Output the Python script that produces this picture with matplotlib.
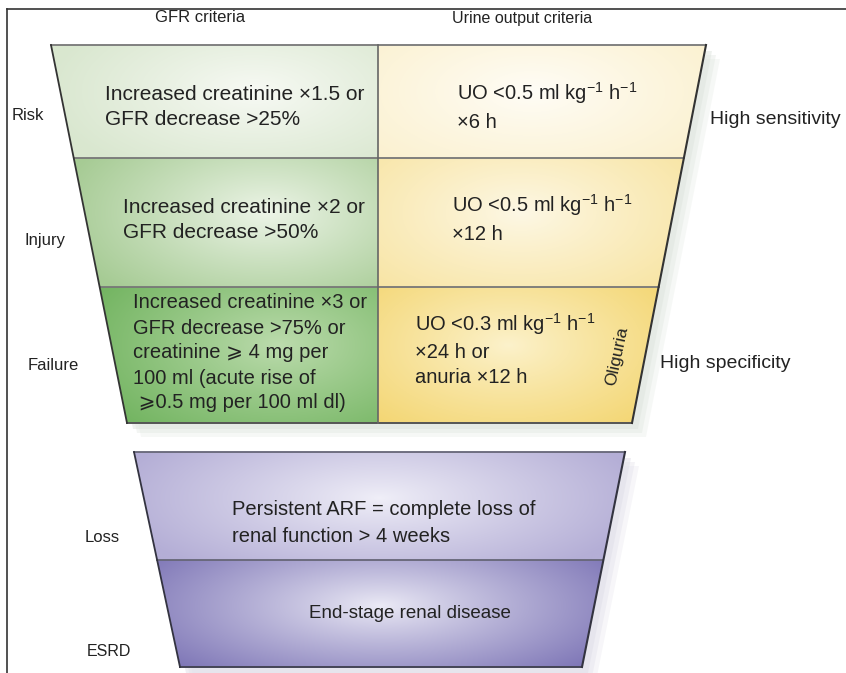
import numpy as np
import matplotlib
matplotlib.use("Agg")
import matplotlib.pyplot as plt
from matplotlib.patches import Polygon
from matplotlib.colors import to_rgb

plt.rcParams['font.family'] = ['Liberation Sans', 'DejaVu Sans']
plt.rcParams['mathtext.default'] = 'regular'

# ---- content ----
headers = ["GFR criteria", "Urine output criteria"]
stages = ["Risk", "Injury", "Failure"]
outcomes = ["Loss", "ESRD"]
gfr_text = [
    "Increased creatinine \u00d71.5 or\nGFR decrease >25%",
    "Increased creatinine \u00d72 or\nGFR decrease >50%",
    "Increased creatinine \u00d73 or\nGFR decrease >75% or\ncreatinine \u2a7e 4 mg per\n100 ml (acute rise of\n \u2a7e0.5 mg per 100 ml dl)",
]
uo_text = [
    "UO <0.5 ml kg$^{-1}$ h$^{-1}$\n\u00d76 h",
    "UO <0.5 ml kg$^{-1}$ h$^{-1}$\n\u00d712 h",
    "UO <0.3 ml kg$^{-1}$ h$^{-1}$\n\u00d724 h or\nanuria \u00d712 h",
]
outcome_text = [
    "Persistent ARF = complete loss of\nrenal function > 4 weeks",
    "End-stage renal disease",
]
side_notes = ["High sensitivity", "High specificity"]
oliguria = "Oliguria"

# ---- layout (pixels) ----
W, H = 846, 673
top_y = [45, 158, 287, 423]
top_left = (51, 127)     # x of left edge at top / bottom
top_right = (706, 632)
mid_x = 378
bot_y = [452, 560, 667]
bot_left = (134, 180)
bot_right = (625, 582)

gfr_colors = [("#d9e7cf", "#f8faf5"), ("#a6cb94", "#eef5e9"), ("#72b460", "#bddcae")]
uo_colors = [("#fbf1d0", "#fffdf7"), ("#f8e4a2", "#fdf8e6"), ("#f3d46c", "#fcf2cc")]
out_colors = [("#b4aed6", "#f0eff8"), ("#7f77b7", "#ecebf6")]


def edge_x(y, ys, xs):
    return xs[0] + (y - ys[0]) * (xs[1] - xs[0]) / (ys[1] - ys[0])


def shade(ax, poly, edge, center, cx, cy, rx, ry):
    poly = np.array(poly)
    x0, y0 = poly.min(axis=0)
    x1, y1 = poly.max(axis=0)
    xs = np.linspace(x0, x1, 200)
    ys = np.linspace(y0, y1, 120)
    X, Y = np.meshgrid(xs, ys)
    t = np.clip(np.sqrt(((X - cx) / rx) ** 2 + ((Y - cy) / ry) ** 2), 0, 1) ** 0.9
    e = np.array(to_rgb(edge))
    c = np.array(to_rgb(center))
    img = c[None, None, :] * (1 - t[..., None]) + e[None, None, :] * t[..., None]
    im = ax.imshow(img, extent=(x0, x1, y1, y0), origin='upper',
                   interpolation='bilinear', zorder=2)
    clip = Polygon(poly, closed=True, facecolor='none', edgecolor='none')
    ax.add_patch(clip)
    im.set_clip_path(clip)


fig = plt.figure(figsize=(W / 100, H / 100), dpi=100)
ax = fig.add_axes([0, 0, 1, 1])
ax.set_xlim(0, W)
ax.set_ylim(H, 0)
ax.axis('off')

# frame lines of the original picture
ax.plot([7, W], [9, 9], color="#333333", lw=1.2, zorder=1)
ax.plot([7, 7], [9, H], color="#333333", lw=1.2, zorder=1)

ty, by = (top_y[0], top_y[-1]), (bot_y[0], bot_y[-1])

# soft shadows
for k, a in zip([14, 10, 6], [0.25, 0.35, 0.5]):
    sh = [(top_left[0] + k, ty[0] + k), (top_right[0] + k, ty[0] + k),
          (top_right[1] + k, ty[1] + k), (top_left[1] + k, ty[1] + k)]
    ax.add_patch(Polygon(sh, closed=True, facecolor="#dfe5de", edgecolor='none', alpha=a, zorder=1))
    sh = [(bot_left[0] + k, by[0] + k), (bot_right[0] + k, by[0] + k),
          (bot_right[1] + k, by[1] + k), (bot_left[1] + k, by[1] + k)]
    ax.add_patch(Polygon(sh, closed=True, facecolor="#e0dfe8", edgecolor='none', alpha=a, zorder=1))

# top funnel cells
for i in range(3):
    ya, yb = top_y[i], top_y[i + 1]
    xla, xlb = edge_x(ya, ty, top_left), edge_x(yb, ty, top_left)
    xra, xrb = edge_x(ya, ty, top_right), edge_x(yb, ty, top_right)
    left = [(xla, ya), (mid_x, ya), (mid_x, yb), (xlb, yb)]
    right = [(mid_x, ya), (xra, ya), (xrb, yb), (mid_x, yb)]
    ym = (ya + yb) / 2
    shade(ax, left, gfr_colors[i][0], gfr_colors[i][1],
          (xla + mid_x) / 2 + 40, ym - 10, 210, (yb - ya) * 0.85)
    shade(ax, right, uo_colors[i][0], uo_colors[i][1],
          (mid_x + xra) / 2 - 10, ym - 10, 210, (yb - ya) * 0.85)
    ax.plot([xla, xra], [ya, ya], color="#777777", lw=1.3, zorder=3)

ax.plot([top_left[1], top_right[1]], [ty[1], ty[1]], color="#555555", lw=1.4, zorder=3)
ax.plot([mid_x, mid_x], ty, color="#666666", lw=1.2, zorder=3)
ax.plot([top_left[0], top_left[1]], ty, color="#333333", lw=1.3, zorder=3)
ax.plot([top_right[0], top_right[1]], ty, color="#333333", lw=1.5, zorder=3)

# bottom funnel cells
for i in range(2):
    ya, yb = bot_y[i], bot_y[i + 1]
    xla, xlb = edge_x(ya, by, bot_left), edge_x(yb, by, bot_left)
    xra, xrb = edge_x(ya, by, bot_right), edge_x(yb, by, bot_right)
    cell = [(xla, ya), (xra, ya), (xrb, yb), (xlb, yb)]
    shade(ax, cell, out_colors[i][0], out_colors[i][1],
          (xla + xra) / 2, (ya + yb) / 2 - 8, 270, (yb - ya) * 0.85)
    ax.plot([xla, xra], [ya, ya], color="#666677", lw=1.3, zorder=3)
ax.plot([bot_left[1], bot_right[1]], [by[1], by[1]], color="#444455", lw=1.4, zorder=3)
ax.plot([bot_left[0], bot_left[1]], by, color="#333340", lw=1.3, zorder=3)
ax.plot([bot_right[0], bot_right[1]], by, color="#333340", lw=1.5, zorder=3)

txt = dict(color="#222222", zorder=4)

# headers
ax.text(200, 18, headers[0], ha='center', va='center', fontsize=12, **txt)
ax.text(522, 18, headers[1], ha='center', va='center', fontsize=11.5, **txt)

# stage labels and cell text
label_x = [12, 24, 28]
label_y = [115, 240, 365]
gfr_x = [105, 123, 133]
gfr_y = [107, 220, 353]
gfr_fs = [15, 15, 14.5]
gfr_ls = [1.45, 1.45, 1.4]
uo_x = [457, 452, 415]
uo_y = [106, 218, 349]
for i in range(3):
    ax.text(label_x[i], label_y[i], stages[i], ha='left', va='center', fontsize=12, **txt)
    ax.text(gfr_x[i], gfr_y[i], gfr_text[i], ha='left', va='center', fontsize=gfr_fs[i],
            linespacing=gfr_ls[i], **txt)
    ax.text(uo_x[i], uo_y[i], uo_text[i], ha='left', va='center', fontsize=14.5,
            linespacing=1.42, **txt)

ax.text(617, 356, oliguria, ha='center', va='center', rotation=78, fontsize=12.5, **txt)

ax.text(710, 120, side_notes[0], ha='left', va='center', fontsize=14, **txt)
ax.text(660, 363, side_notes[1], ha='left', va='center', fontsize=14, **txt)

# outcome labels
ax.text(85, 537, outcomes[0], ha='left', va='center', fontsize=12, **txt)
ax.text(87, 651, outcomes[1], ha='left', va='center', fontsize=11.5, **txt)
ax.text(232, 523, outcome_text[0], ha='left', va='center', fontsize=14.5, linespacing=1.5, **txt)
ax.text(410, 614, outcome_text[1], ha='center', va='center', fontsize=13.5, **txt)

fig.savefig("out.png", dpi=100)
